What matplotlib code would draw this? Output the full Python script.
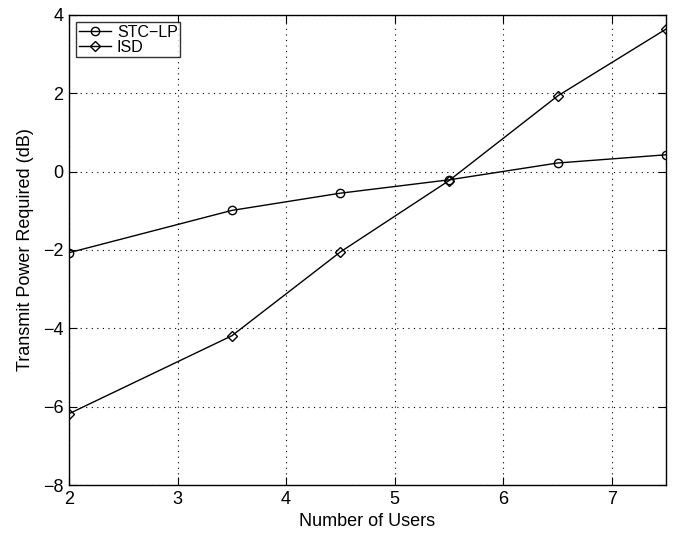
import matplotlib
matplotlib.use("Agg")
import matplotlib.pyplot as plt

users = [2, 3.5, 4.5, 5.5, 6.5, 7.5]
stc_lp = [-2.07, -0.99, -0.55, -0.21, 0.22, 0.43]
isd = [-6.18, -4.19, -2.05, -0.23, 1.93, 3.64]

plt.rcParams['font.family'] = ['Liberation Sans', 'DejaVu Sans']

fig = plt.figure(figsize=(6.79, 5.33), dpi=100)
ax = fig.add_axes([0.1016, 0.090, 0.8794, 0.882])

ax.plot(users, stc_lp, color='black', lw=1, marker='o', ms=6,
        mfc='none', mec='black', label='STC\u2212LP')
ax.plot(users, isd, color='black', lw=1, marker='D', ms=5.5,
        mfc='none', mec='black', label='ISD')

ax.set_xlim(2, 7.5)
ax.set_ylim(-8, 4)
ax.set_xticks([2, 3, 4, 5, 6, 7])
ax.set_yticks([-8, -6, -4, -2, 0, 2, 4])
ax.set_yticklabels(['\u22128', '\u22126', '\u22124', '\u22122', '0', '2', '4'])

ax.grid(True, linestyle=(0, (1, 4)), color='black', lw=0.8)
ax.tick_params(direction='in', top=True, right=True, labelsize=13, length=6, pad=4)
for s in ax.spines.values():
    s.set_linewidth(1)

ax.set_xlabel('Number of Users', fontsize=13, labelpad=4)
ax.set_ylabel('Transmit Power Required (dB)', fontsize=13, labelpad=6)

leg = ax.legend(loc='upper left', fontsize=11.5, frameon=True, fancybox=False,
                handlelength=2, borderaxespad=0.45, borderpad=0.15,
                labelspacing=0.0, handletextpad=0.4, numpoints=1)
leg.get_frame().set_edgecolor('black')
leg.get_frame().set_linewidth(1)

fig.savefig('out.png', dpi=100)
